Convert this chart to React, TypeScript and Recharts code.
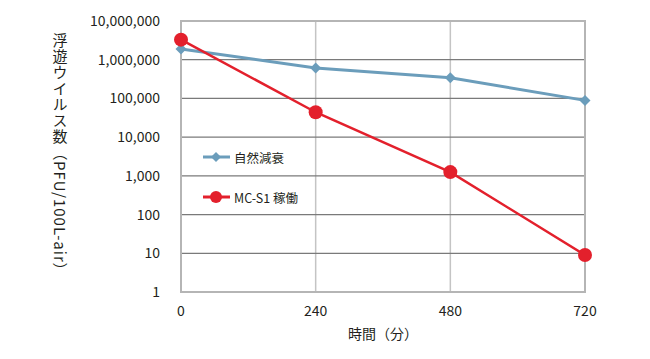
import { LineChart, Line, XAxis, YAxis, CartesianGrid, ReferenceArea } from "recharts"

const minutes = [0, 240, 480, 720]
const naturalDecay = [1900000, 610000, 340000, 89000]
const mcS1 = [3300000, 44000, 1250, 9]
const yTicks = [1, 10, 100, 1000, 10000, 100000, 1000000, 10000000]
const xTicks = [0, 240, 480, 720]

const seriesNames = { natural: "自然減衰", mc: "MC-S1 稼働" }
const BLUE = "#6b9dbb"
const RED = "#e3202c"
const FONT = "'Noto Sans CJK JP', 'Noto Sans', sans-serif"
const TEXT = "#231f20"

const chartData = minutes.map((m, i) => ({
  minute: m,
  natural: naturalDecay[i],
  mc: mcS1[i],
}))

const Diamond = (props: any) => {
  const { cx, cy } = props
  if (cx == null || cy == null) return null
  const s = 5.5
  return (
    <polygon
      points={`${cx},${cy - s} ${cx + s},${cy} ${cx},${cy + s} ${cx - s},${cy}`}
      fill={BLUE}
    />
  )
}

const LegendBox = () => (
  <div style={{ position: "absolute", left: 202, top: 147, fontFamily: FONT, fontSize: 12.5, color: TEXT }}>
    <div style={{ display: "flex", alignItems: "center", height: 20 }}>
      <svg width={30} height={14}>
        <line x1={1} y1={7} x2={28} y2={7} stroke={BLUE} strokeWidth={3} />
        <polygon points="14,2 19,7 14,12 9,7" fill={BLUE} />
      </svg>
      <span style={{ marginLeft: 2 }}>{seriesNames.natural}</span>
    </div>
    <div style={{ display: "flex", alignItems: "center", height: 20, marginTop: 20 }}>
      <svg width={30} height={14}>
        <line x1={1} y1={7} x2={28} y2={7} stroke={RED} strokeWidth={3} />
        <circle cx={14} cy={7} r={6} fill={RED} />
      </svg>
      <span style={{ marginLeft: 2 }}>{seriesNames.mc}</span>
    </div>
  </div>
)

export default function App() {
  return (
    <div style={{ position: "absolute", left: 0, top: 0, width: 650, height: 359, background: "#fff" }}>
      <LineChart
        width={650}
        height={359}
        data={chartData}
        margin={{ top: 21, right: 65, bottom: 0, left: 0 }}
      >
        <CartesianGrid horizontal={false} stroke="#c4c4c4" strokeWidth={1.5} />
        <CartesianGrid vertical={false} stroke="#7a7a7a" strokeWidth={1.2} />
        <XAxis
          dataKey="minute"
          type="number"
          domain={[0, 720]}
          ticks={xTicks}
          height={67}
          tickLine={false}
          axisLine={false}
          tickSize={0}
          tickMargin={14}
          tick={{ fill: TEXT, fontSize: 14, fontFamily: FONT }}
          label={{ value: "時間（分）", position: "insideTop", offset: 37, fill: TEXT, fontSize: 14, fontFamily: FONT }}
        />
        <YAxis
          scale="log"
          domain={[1, 10000000]}
          ticks={yTicks}
          allowDataOverflow
          width={181}
          tickLine={false}
          axisLine={false}
          tickSize={0}
          tickMargin={21}
          tickFormatter={(v: number) => v.toLocaleString("en-US")}
          tick={{ fill: TEXT, fontSize: 14, fontFamily: FONT }}
        />
        <ReferenceArea x1={0} x2={720} y1={1} y2={10000000} fill="none" stroke="#b5b5b5" strokeWidth={2} ifOverflow="visible" />
        <Line
          dataKey="natural"
          name={seriesNames.natural}
          stroke={BLUE}
          strokeWidth={3}
          dot={<Diamond />}
          isAnimationActive={false}
        />
        <Line
          dataKey="mc"
          name={seriesNames.mc}
          stroke={RED}
          strokeWidth={2.5}
          dot={{ r: 7, fill: RED, stroke: RED, strokeWidth: 0 }}
          isAnimationActive={false}
        />
      </LineChart>
      <LegendBox />
      <div
        style={{
          position: "absolute",
          left: 52.5,
          top: 33,
          writingMode: "vertical-rl",
          fontFamily: FONT,
          fontSize: 15,
          lineHeight: 1,
          letterSpacing: 1,
          color: TEXT,
          whiteSpace: "nowrap",
        }}
      >
        浮遊ウイルス数（PFU/100L-air）
      </div>
    </div>
  )
}
